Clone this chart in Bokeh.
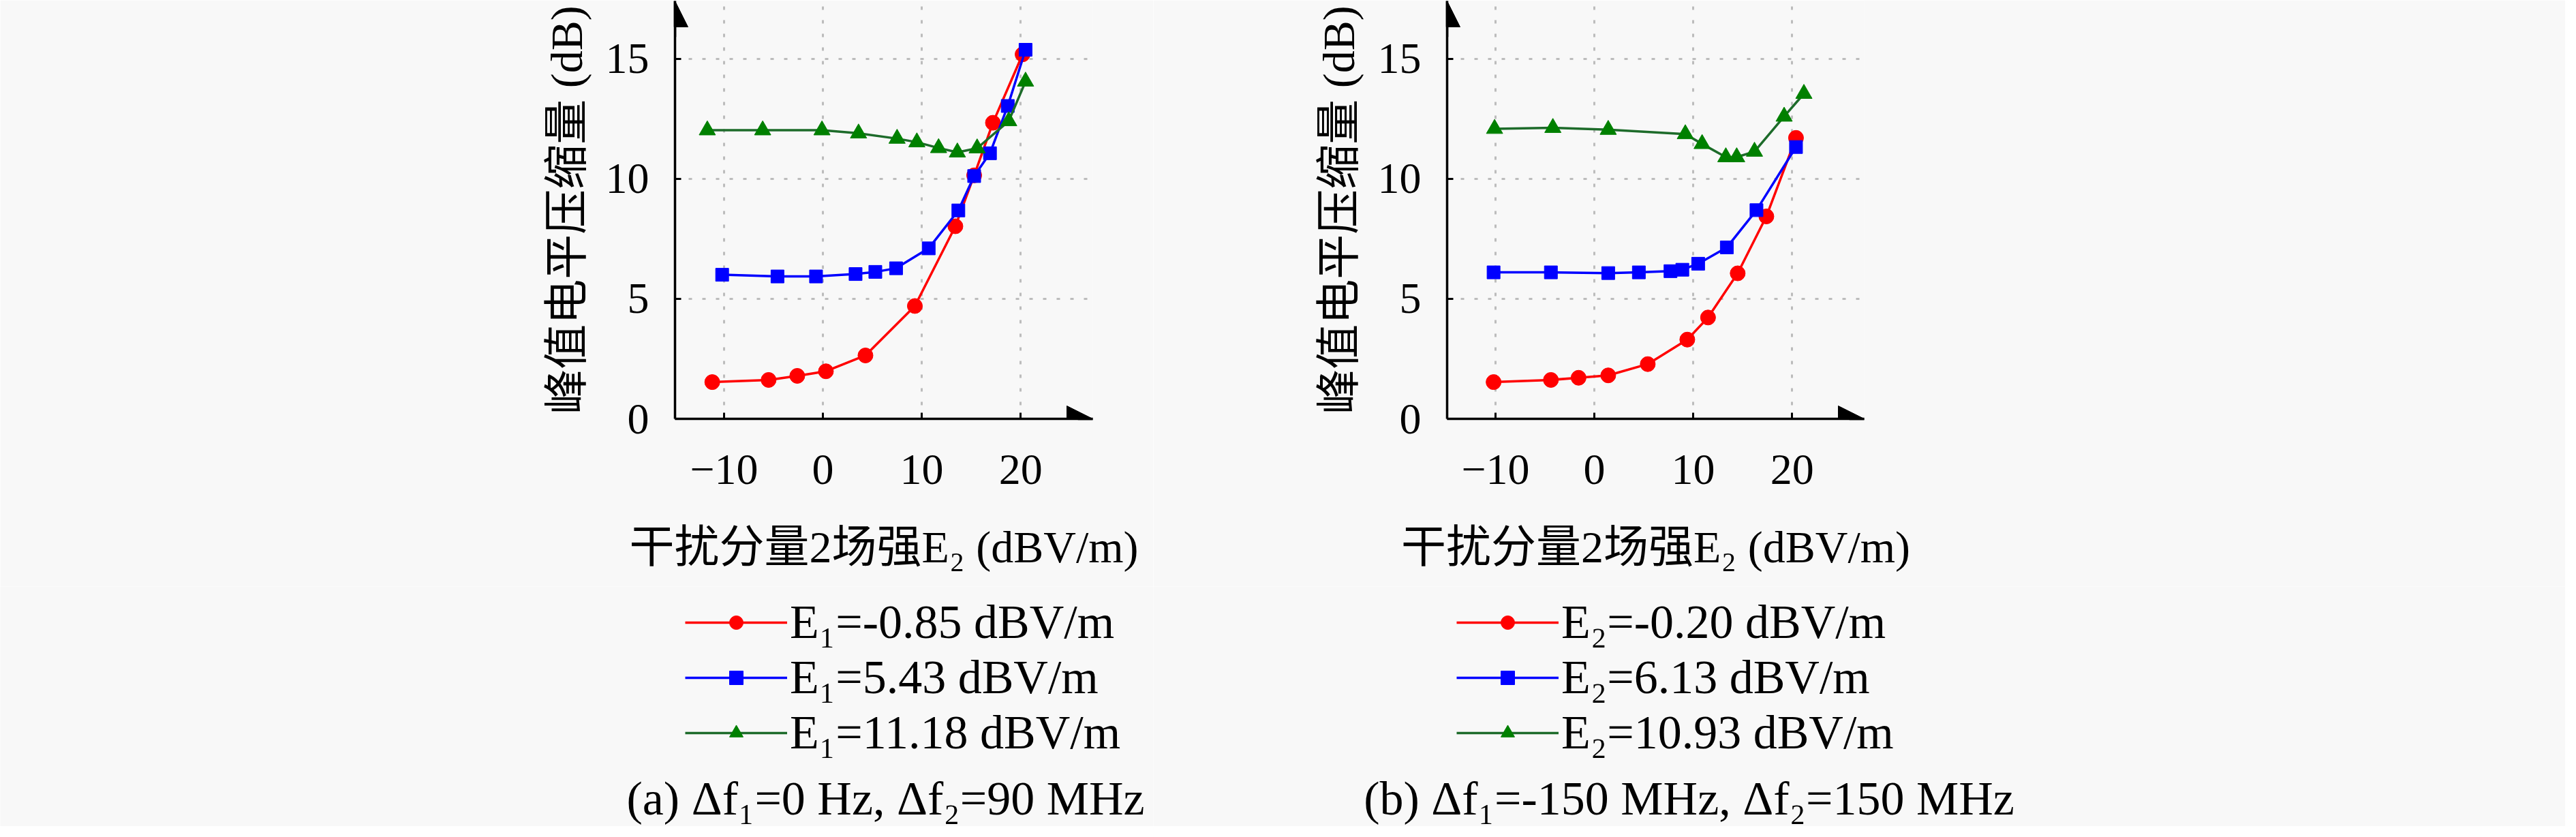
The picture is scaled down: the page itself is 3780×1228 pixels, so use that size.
from bokeh.plotting import figure
from bokeh.models import Range1d, FixedTicker, Legend, LegendItem, Label, Arrow, NormalHead
from bokeh.layouts import row, column
from bokeh.embed import file_html
from bokeh.resources import INLINE

# ---------------- data ----------------
x_ticks = [-10, 0, 10, 20]
x_tick_labels = ["−10", "0", "10", "20"]
y_ticks = [0, 5, 10, 15]
y_tick_labels = ["0", "5", "10", "15"]

y_title = "峰值电平压缩量 (dB)"
x_title = "干扰分量2场强E₂ (dBV/m)"

# panel (a)
a_red_x = [-11.2, -5.5, -2.6, 0.3, 4.3, 9.3, 13.4, 15.3, 17.2, 20.2]
a_red_y = [1.53, 1.62, 1.79, 1.98, 2.64, 4.70, 8.02, 10.14, 12.33, 15.18]
a_blue_x = [-10.2, -4.6, -0.7, 3.3, 5.3, 7.4, 10.7, 13.7, 15.3, 16.9, 18.7, 20.5]
a_blue_y = [6.00, 5.93, 5.93, 6.03, 6.12, 6.27, 7.10, 8.68, 10.11, 11.06, 13.03, 15.37]
a_green_x = [-11.7, -6.1, -0.1, 3.6, 7.5, 9.5, 11.7, 13.6, 15.6, 18.8, 20.5]
a_green_y = [12.02, 12.02, 12.02, 11.89, 11.67, 11.52, 11.28, 11.10, 11.27, 12.40, 14.05]
a_labels = ["E₁=-0.85 dBV/m", "E₁=5.43 dBV/m", "E₁=11.18 dBV/m"]
a_caption = "(a) Δf₁=0 Hz, Δf₂=90 MHz"

# panel (b)
b_red_x = [-10.2, -4.4, -1.6, 1.4, 5.4, 9.4, 11.5, 14.5, 17.4, 20.4]
b_red_y = [1.53, 1.62, 1.71, 1.81, 2.28, 3.30, 4.22, 6.06, 8.43, 11.70]
b_blue_x = [-10.2, -4.4, 1.4, 4.5, 7.7, 8.9, 10.5, 13.4, 16.4, 20.4]
b_blue_y = [6.10, 6.10, 6.07, 6.10, 6.15, 6.21, 6.46, 7.14, 8.69, 11.32]
b_green_x = [-10.1, -4.2, 1.4, 9.2, 10.9, 13.3, 14.4, 16.2, 19.2, 21.2]
b_green_y = [12.08, 12.12, 12.04, 11.86, 11.45, 10.90, 10.90, 11.13, 12.59, 13.54]
b_labels = ["E₂=-0.20 dBV/m", "E₂=6.13 dBV/m", "E₂=10.93 dBV/m"]
b_caption = "(b) Δf₁=-150 MHz, Δf₂=150 MHz"

# ---------------- style ----------------
FONT = "Liberation Serif, Noto Sans CJK SC"
BG = "#f8f8f8"
FS = "64px"
FS_LEG = "70px"
line_colors = ["#ff0000", "#0000ff", "#1d6b2a"]
fill_colors = ["#ff0000", "#0000ff", "#008000"]
markers = ["circle", "square", "triangle"]
marker_sizes = [22, 19, 24]

TOP_H = 860
BOT_H = 352


def draw_series(p, series):
    out = []
    for (xs, ys), lc, fc, mk, ms in zip(series, line_colors, fill_colors,
                                        markers, marker_sizes):
        r1 = p.line(xs, ys, line_color=lc, line_width=3.5)
        r2 = p.scatter(xs, ys, marker=mk, size=ms, fill_color=fc, line_color=fc)
        out.append([r1, r2])
    return out


def make_panel(width, border_left, border_right, x_start, x_end, series):
    y_end = 17.4
    p = figure(width=width, height=TOP_H, output_backend="svg", toolbar_location=None,
               x_range=Range1d(x_start, x_end), y_range=Range1d(0, y_end),
               min_border_left=border_left, min_border_right=border_right,
               min_border_top=1, min_border_bottom=TOP_H - 614)
    p.background_fill_color = BG
    p.border_fill_color = BG
    p.outline_line_color = None

    for ax, ticks, tlabels in ((p.xaxis[0], x_ticks, x_tick_labels),
                               (p.yaxis[0], y_ticks, y_tick_labels)):
        ax.ticker = FixedTicker(ticks=ticks)
        ax.major_label_overrides = {t: l for t, l in zip(ticks, tlabels)}
        ax.axis_line_width = 3.5
        ax.axis_line_color = "black"
        ax.major_tick_in = 9
        ax.major_tick_out = 0
        ax.major_tick_line_width = 3
        ax.minor_tick_line_color = None
        ax.major_label_text_font = FONT
        ax.major_label_text_font_size = FS
        ax.major_label_text_color = "black"
        ax.axis_label_text_font = FONT
        ax.axis_label_text_font_size = "66px"
        ax.axis_label_text_font_style = "normal"
        ax.axis_label_text_color = "black"

    p.xaxis.axis_label = x_title
    p.yaxis.axis_label = y_title
    p.xaxis.major_label_standoff = 53
    p.yaxis.major_label_standoff = 38
    p.xaxis.axis_label_standoff = 53
    p.yaxis.axis_label_standoff = 18

    p.grid.grid_line_color = "#bcbcbc"
    p.grid.grid_line_width = 3
    p.grid.grid_line_dash = "5 15"

    draw_series(p, series)

    # axis arrows
    head = dict(fill_color="black", line_color="black", size=38)
    p.add_layout(Arrow(end=NormalHead(**head), x_start=x_start, x_end=x_start,
                       y_start=y_end - 1.5, y_end=y_end, line_width=3.5))
    p.add_layout(Arrow(end=NormalHead(**head), x_start=x_end - 1.5, x_end=x_end,
                       y_start=0, y_end=0, line_width=3.5))
    return p


def make_key(width, series, labels, legend_x, caption, caption_x):
    # legend + caption strip under a panel; the series are drawn outside the
    # visible ranges so that only the legend glyphs show
    k = figure(width=width, height=BOT_H, output_backend="svg", toolbar_location=None,
               x_range=Range1d(0, 1), y_range=Range1d(-200, -199),
               x_axis_type=None, y_axis_type=None, min_border=0)
    k.background_fill_color = BG
    k.border_fill_color = BG
    k.outline_line_color = None
    k.grid.visible = False
    rs = draw_series(k, series)
    items = [LegendItem(label=lab, renderers=r) for lab, r in zip(labels, rs)]
    legend = Legend(items=items, location=(legend_x, 97), orientation="vertical",
                    glyph_width=150, glyph_height=50, label_height=70,
                    label_standoff=4, spacing=1, padding=0, margin=0,
                    border_line_color=None, background_fill_alpha=0,
                    label_text_font=FONT, label_text_font_size=FS_LEG,
                    label_text_color="black")
    k.add_layout(legend, "center")
    k.add_layout(Label(x=caption_x, y=3, x_units="screen", y_units="screen",
                       text=caption, text_align="center", text_baseline="bottom",
                       text_font=FONT, text_font_size=FS_LEG, text_color="black"))
    return k


sa = [(a_red_x, a_red_y), (a_blue_x, a_blue_y), (a_green_x, a_green_y)]
sb = [(b_red_x, b_red_y), (b_blue_x, b_blue_y), (b_green_x, b_green_y)]

pa = make_panel(1692, 990, 89, -14.97, 27.3, sa)
pb = make_panel(2072, 431, 1029, -14.9, 27.3, sb)
ka = make_key(1692, sa, a_labels, 1005, a_caption, 1299)
kb = make_key(2072, sb, b_labels, 445, b_caption, 786)

layout = column(row(pa, pb, spacing=0), row(ka, kb, spacing=0), spacing=0)
open("out.html", "w").write(file_html(layout, INLINE))
